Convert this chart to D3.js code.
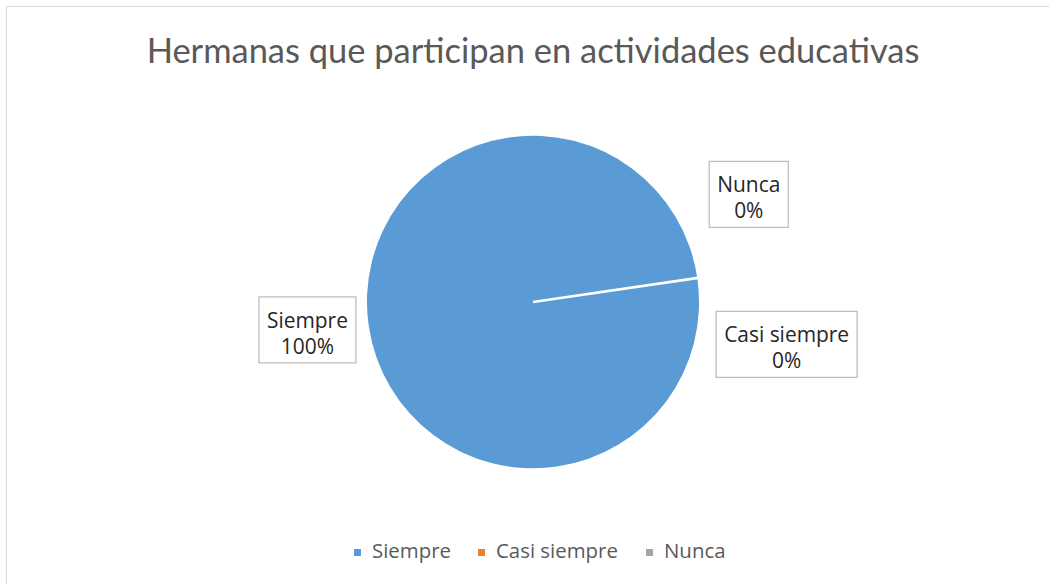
<!DOCTYPE html>
<html>
<head>
<meta charset="utf-8">
<script src="https://cdn.jsdelivr.net/npm/d3@7"></script>
<style>
  body { margin: 0; background: #fff; }
  text { font-family: 'Open Sans', Lato, sans-serif; }
  .title { font-family: Lato, 'Open Sans', sans-serif; }
</style>
</head>
<body>
<div id="chart"></div>
<script>
// data
var title = 'Hermanas que participan en actividades educativas'
var categories = ['Siempre', 'Casi siempre', 'Nunca']
var values = [100, 0, 0]
var colors = ['#5B9BD5', '#ED7D31', '#A5A5A5']

var width = 1049
var height = 584
var cx = 533
var cy = 302
var radius = 166

var svg = d3
  .select('#chart')
  .append('svg')
  .attr('width', width)
  .attr('height', height)

// chart border (runs off right / bottom edge)
svg
  .append('rect')
  .attr('x', 6.5)
  .attr('y', 6.5)
  .attr('width', width)
  .attr('height', height)
  .attr('fill', 'none')
  .attr('stroke', '#d9d9d9')

// font size that makes a text (drawn at size fs) span the wanted width
function fitSize (node, target, fs) {
  var w = node.getComputedTextLength()
  return +(fs * target / w).toFixed(2)
}

var titleText = svg
  .append('text')
  .attr('class', 'title')
  .attr('x', 533)
  .attr('y', 63)
  .attr('text-anchor', 'middle')
  .attr('font-size', 28)
  .attr('fill', '#595959')
  .text(title)
titleText.attr('font-size', fitSize(titleText.node(), 773, 28))

// pie
var startAngle = (81.7 * Math.PI) / 180
var pie = d3
  .pie()
  .sort(null)
  .startAngle(startAngle)
  .endAngle(startAngle + 2 * Math.PI)
var arcs = pie(values)
var arc = d3.arc().innerRadius(0).outerRadius(radius)

var g = svg.append('g').attr('transform', 'translate(' + cx + ',' + cy + ')')

g.selectAll('path.slice')
  .data(arcs)
  .enter()
  .append('path')
  .attr('class', 'slice')
  .attr('d', arc)
  .attr('fill', (d, i) => colors[i])

// slice edges (white separators)
g.selectAll('line.edge')
  .data(arcs.filter(d => d.value > 0))
  .enter()
  .append('line')
  .attr('class', 'edge')
  .attr('x1', 0)
  .attr('y1', 0)
  .attr('x2', d => d3.pointRadial(d.startAngle, radius + 1)[0])
  .attr('y2', d => d3.pointRadial(d.startAngle, radius + 1)[1])
  .attr('stroke', '#fff')
  .attr('stroke-width', 2.6)

// data labels: zero slices are pushed apart around their common angle
var nudge = [1, 18, -18]
var dist = [1.37, 1.55, 1.45]
var labelG = g
  .selectAll('g.label')
  .data(arcs)
  .enter()
  .append('g')
  .attr('class', 'label')
  .attr('transform', (d, i) => {
    var a = (d.startAngle + d.endAngle) / 2 + (nudge[i] * Math.PI) / 180
    var p = d3.pointRadial(a, radius * dist[i])
    return 'translate(' + p[0] + ',' + p[1] + ')'
  })

var lblText = labelG
  .append('text')
  .attr('text-anchor', 'middle')
  .attr('font-size', 18)
  .attr('fill', '#262626')
lblText
  .append('tspan')
  .attr('x', 0)
  .attr('y', -3)
  .text((d, i) => categories[i])
lblText
  .append('tspan')
  .attr('x', 0)
  .attr('y', 23)
  .text(d => d3.format('.0%')(d.value / d3.sum(values)))

// size labels so "Siempre" is as wide as in the reference
var lblSize = fitSize(lblText.select('tspan').node(), 81, 18)
lblText.attr('font-size', lblSize)

labelG.each(function () {
  var t = d3.select(this).select('text')
  var bb = t.node().getBBox()
  d3.select(this)
    .insert('rect', 'text')
    .attr('x', bb.x - 8)
    .attr('y', -34)
    .attr('width', bb.width + 16)
    .attr('height', 66)
    .attr('fill', '#fff')
    .attr('stroke', '#bfbfbf')
    .attr('stroke-width', 1.3)
})

// legend
var legendX = [354, 478, 646]
var legend = svg
  .selectAll('g.legend')
  .data(categories)
  .enter()
  .append('g')
  .attr('class', 'legend')
  .attr('transform', (d, i) => 'translate(' + legendX[i] + ',549)')

legend
  .append('rect')
  .attr('width', 7)
  .attr('height', 7)
  .attr('fill', (d, i) => colors[i])

var legText = legend
  .append('text')
  .attr('x', 18)
  .attr('y', 9)
  .attr('font-size', 18)
  .attr('fill', '#595959')
  .text(d => d)
legText.attr('font-size', fitSize(legText.nodes()[1], 122, 18))
</script>
</body>
</html>
